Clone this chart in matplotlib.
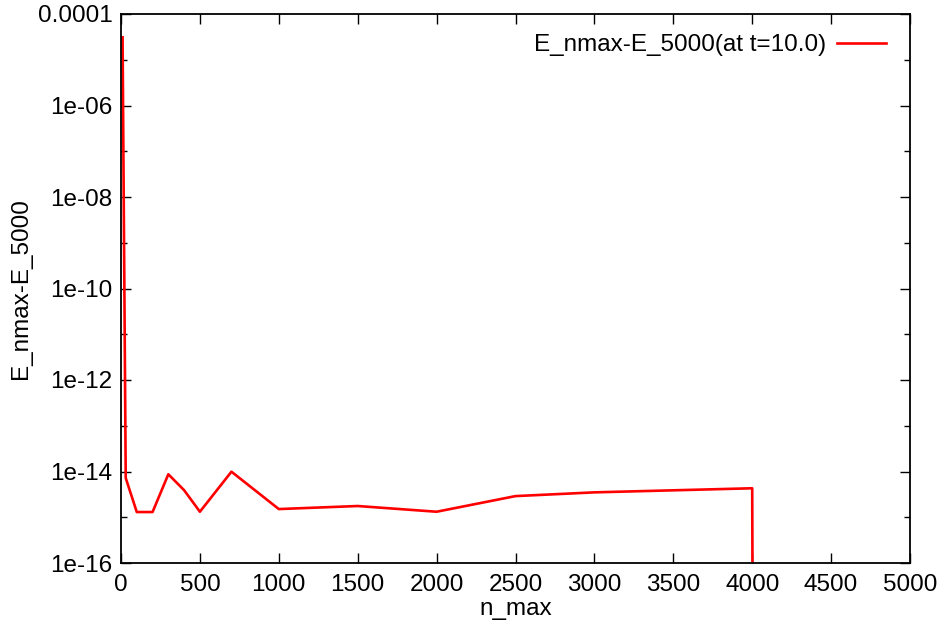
import numpy as np
import matplotlib.pyplot as plt
from matplotlib.ticker import FixedLocator, NullFormatter

plt.rcParams['font.family'] = ['Liberation Sans', 'DejaVu Sans']

# data
n_max = [10, 30, 100, 200, 300, 400, 500, 700, 1000, 1500, 2000, 2500, 3000, 4000, 5000]
diff = [3.1e-5, 7.2e-15, 1.3e-15, 1.3e-15, 8.7e-15, 3.9e-15, 1.32e-15, 9.9e-15,
        1.51e-15, 1.76e-15, 1.32e-15, 2.9e-15, 3.5e-15, 4.3e-15, 0.0]
label = "E_nmax-E_5000(at t=10.0)"

fs = 17.5

fig = plt.figure(figsize=(9.45, 6.27), dpi=100)
ax = fig.add_axes([121 / 945, 1 - 563 / 627, 789 / 945, 549 / 627])

ax.plot(n_max, diff, color='red', lw=1.9, label=label)
ax.set_yscale('log', nonpositive='clip')
ax.set_xlim(0, 5000)
ax.set_ylim(1e-16, 1e-4)

ax.set_xticks(np.arange(0, 5001, 500))
major = [10.0 ** e for e in range(-16, -3, 2)]
ax.yaxis.set_major_locator(FixedLocator(major))
ax.set_yticklabels(['1e-16', '1e-14', '1e-12', '1e-10', '1e-08', '1e-06', '0.0001'])
ax.yaxis.set_minor_locator(FixedLocator([10.0 ** e for e in range(-15, -4, 2)]))
ax.yaxis.set_minor_formatter(NullFormatter())

ax.tick_params(which='both', direction='in', top=True, right=True,
               labelsize=fs, width=1, color='black', pad=6)
ax.tick_params(axis='x', which='major', pad=8)
ax.tick_params(which='major', length=7)
ax.tick_params(which='minor', length=4)
for s in ax.spines.values():
    s.set_linewidth(1.3)

ax.set_xlabel('n_max', fontsize=fs, labelpad=1)
ax.set_ylabel('E_nmax-E_5000', fontsize=fs, labelpad=4)

ax.legend(loc='center right', frameon=False, fontsize=fs, markerfirst=False,
          handlelength=2.0, handletextpad=0.45, borderaxespad=0, borderpad=0,
          bbox_to_anchor=(886 / 945, 1 - 45 / 627), bbox_transform=fig.transFigure)

fig.savefig('out.png', dpi=100)
